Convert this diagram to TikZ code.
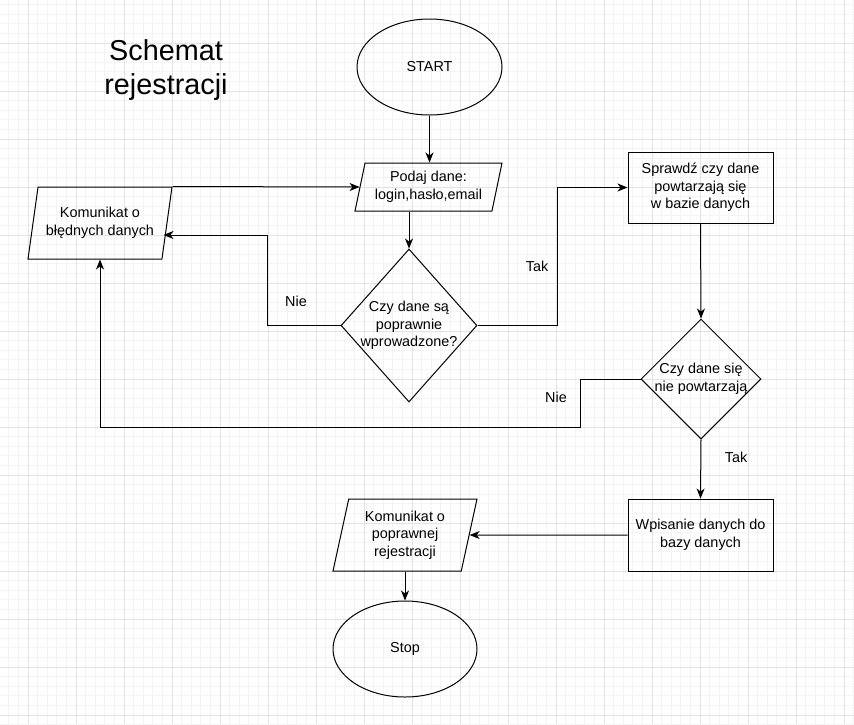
\documentclass[tikz,border=0pt]{standalone}
\usepackage{fontspec}
\setmainfont{Liberation Sans}
\usepackage{tikz}
\usetikzlibrary{shapes.geometric,arrows.meta}
\definecolor{gridminor}{HTML}{F4F4F4}
\definecolor{gridmajor}{HTML}{E3E3E3}
\tikzset{
    every node/.style = {font=\fontsize{14.4}{17.5}\selectfont, align=center},
    term/.style = {ellipse, draw, line width=1pt, minimum width=145pt, minimum height=96pt, inner sep=0pt},
    io/.style = {trapezium, trapezium left angle=72, trapezium right angle=108, trapezium stretches body,
        draw, line width=1pt, inner sep=0pt, minimum width=144pt, minimum height=72pt},
    proc/.style = {rectangle, draw, line width=1pt, minimum width=145pt, minimum height=72pt},
    dec/.style = {diamond, draw, line width=1pt, inner sep=0pt},
    arr/.style = {-{Stealth[length=10pt,width=8pt,inset=3pt]}, line width=1pt}
}

\begin{document}
\begin{tikzpicture}[x=1pt, y=-1pt]
    \useasboundingbox (0,0) rectangle (854,724);
    \fill[white] (0,0) rectangle (854,724);

    \begin{scope}[line width=0.8pt]
      \foreach \i in {0,...,88} \draw[gridminor] ({8.8+9.6*\i},0) -- ++(0,724);
      \foreach \i in {0,...,75} \draw[gridminor] (0,{4.6+9.6*\i}) -- ++(854,0);
      \foreach \i in {0,...,17} \draw[gridmajor] ({28+48*\i},0) -- ++(0,724);
      \foreach \i in {0,...,14} \draw[gridmajor] (0,{43+48*\i}) -- ++(854,0);
    \end{scope}

    \node[font=\fontsize{28.8}{34.5}\selectfont] (title) at (166,70) {Schemat\\rejestracji};

    \node[term] (start) at (429.5,67) {START};
    \node[io, minimum width=147pt, minimum height=48pt] (pod) at (428.5,187) {Podaj dane:\\login,hasło,email};
    \node[dec, minimum width=136pt, minimum height=153pt,
        label={center:Czy dane są\\poprawnie\\wprowadzone?}] (d1) at (409,325.5) {};
    \node[io] (kb) at (100,223) {Komunikat o\\błędnych danych};
    \node[proc, minimum height=71pt] (sp) at (700.5,187.5) {Sprawdź czy dane\\powtarzają się\\w bazie danych};
    \node[dec, minimum width=120pt, minimum height=120pt,
        label={center:Czy dane się\\nie powtarzają}] (d2) at (701,379) {};
    \node[proc] (wp) at (700.5,535) {Wpisanie danych do\\bazy danych};
    \node[io] (kp) at (405,535) {Komunikat o\\poprawnej\\rejestracji};
    \node[term, minimum width=144pt] (stop) at (405,649) {Stop};

    \draw[arr] (start.south) -- (start.south |- pod.north);
    \draw[arr] (d1.north |- pod.south) -- (d1.north);
    \draw[arr] (kb.top right corner) -- (pod.west);
    \draw[arr] (d1.west) -- ++(-73,0) |- ([shift={(-4pt,-12pt)}]kb.east)
      node (nie1) at (296,301) {Nie};
    \draw[arr] (d1.east) -- ++(80,0) |- (sp.west)
      node (tak1) at (537,266) {Tak};
    \draw[arr] (sp.south) -- (d2.north);
    \draw[arr] (d2.west) -- ++(-60,0) -- ++(0,48) -| (kb.center |- kb.south)
      node (nie2) at (556,397) {Nie};
    \draw[arr] (d2.south) -- (wp.north)
      node (tak2) at (736,457) {Tak};
    \draw[arr] (wp.west) -- (kp.east);
    \draw[arr] (kp.center |- kp.south) -- (stop.north);
\end{tikzpicture}
\end{document}
